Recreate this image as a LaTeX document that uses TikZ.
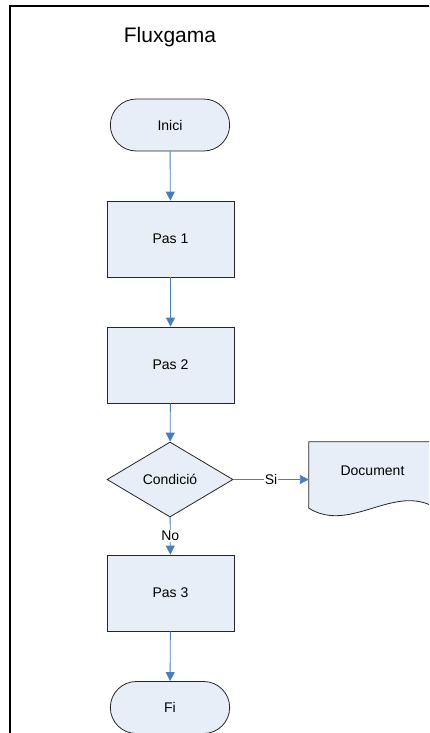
\documentclass[tikz,border=0pt]{standalone}
\usepackage{fontspec}
\setmainfont{Liberation Sans}
\usetikzlibrary{shapes.geometric,shapes.misc,arrows.meta}
\definecolor{boxfill}{RGB}{232,238,247}
\definecolor{flowblue}{RGB}{74,126,187}
\tikzset{
  shapeline/.style={draw=black!85,line width=0.8pt,fill=boxfill},
  terminal/.style={shapeline,rounded rectangle,minimum width=126pt,minimum height=52pt},
  process/.style={shapeline,rectangle,minimum width=127pt,minimum height=76pt},
  decision/.style={shapeline,diamond,aspect=1.68,inner sep=0pt,minimum width=126pt,minimum height=75pt},
  docbox/.style={rectangle,minimum width=127pt,minimum height=75pt},
  flow/.style={flowblue,line width=0.9pt,-{Triangle[length=9pt,width=9pt]}},
  flowlabel/.style={fill=white,text=black,inner sep=1pt}
}

\begin{document}
\begin{tikzpicture}[x=1pt,y=-1pt,font=\fontsize{14}{16}\selectfont]
  \clip (0,0) rectangle (429,733) ;
  \draw[line width=2pt] (9.5,740)--(9.5,6.5)--(440,6.5) ;
  \node[anchor=base,font=\fontsize{21}{24}\selectfont] (title) at (170,42.7) {Fluxgama} ;
  % main column
  \node[terminal] (inici) at (170,125) {Inici} ;
  \node[process] (pas1) at (170.5,239) {Pas 1} ;
  \node[process] (pas2) at (170.5,365) {Pas 2} ;
  \node[decision] (cond) at (170,479.5) {Condici\'o} ;
  \node[process] (pas3) at (170.5,593) {Pas 3} ;
  \node[terminal] (fi) at (170,707.5) {Fi} ;
  % document shape
  \node[docbox] (doc) at (372.5,479.5) {} ;
  \draw[shapeline] (doc.north west)--(doc.north east)--([yshift=9pt]doc.south east)
    .. controls ([xshift=-42pt,yshift=35pt]doc.south east) and ([xshift=42pt,yshift=-17pt]doc.south west)
    .. ([yshift=9pt]doc.south west)--cycle ;
  \node (doctext) at ([yshift=8.5pt]doc.center) {Document} ;
  % connectors
  \draw[flow] (inici)--(pas1) ;
  \draw[flow] (pas1)--(pas2) ;
  \draw[flow] (pas2)--(cond) ;
  \draw[flow] (cond)--node[flowlabel]{Si} (doc) ;
  \draw[flow] (cond)--node[flowlabel]{No} (pas3) ;
  \draw[flow] (pas3)--(fi) ;
\end{tikzpicture}
\end{document}
